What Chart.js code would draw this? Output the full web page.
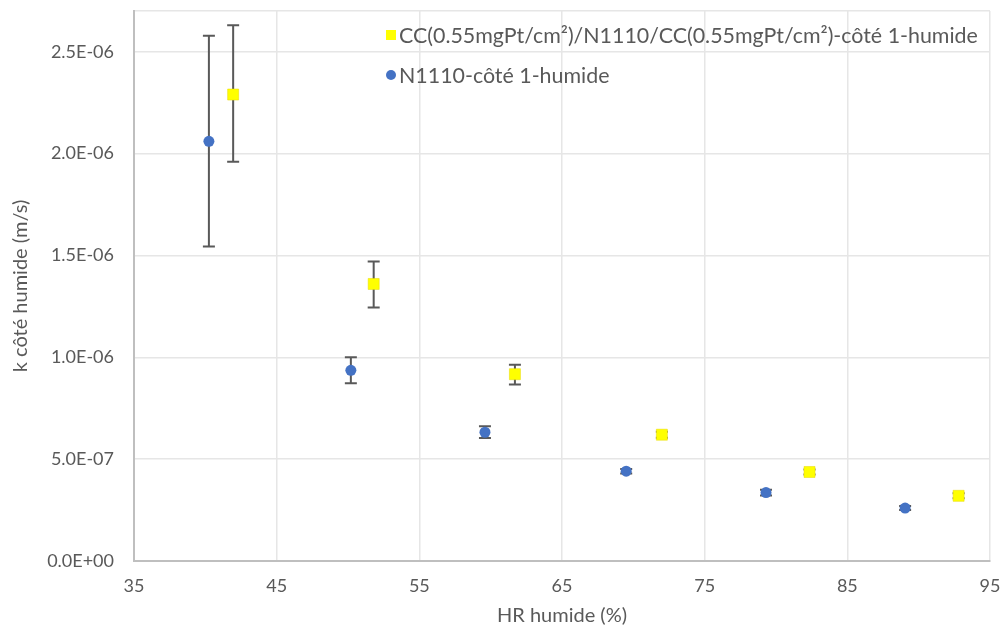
<!DOCTYPE html>
<html lang="fr">
<head>
<meta charset="UTF-8">
<title>k côté humide</title>
<style>
    body { margin: 0; background: #fff; font-family: Lato, sans-serif; }
    .wrap { position: relative; width: 1005px; height: 628px; }
    .legend { position: absolute; left: 386px; top: 15px; color: #595959; font-size: 21.4px; }
    .legend div { display: flex; align-items: center; height: 40px; }
    .legend span.mk { display: inline-block; width: 10px; height: 10px; margin-right: 3px; }
</style>
</head>
<body>
<div class="wrap">
    <canvas id="chart" width="1005" height="628"></canvas>
    <div class="legend">
        <div><span class="mk" style="background:#FFFF00"></span>CC(0.55mgPt/cm²)/N1110/CC(0.55mgPt/cm²)-côté 1-humide</div>
        <div><span class="mk" style="background:#4472C4;border-radius:50%"></span>N1110-côté 1-humide</div>
    </div>
</div>

<script src="https://cdn.jsdelivr.net/npm/chart.js"></script>
<script>
    // data
    const ccLabel = 'CC(0.55mgPt/cm²)/N1110/CC(0.55mgPt/cm²)-côté 1-humide';
    const ccHR = [41.95, 51.8, 61.7, 72.0, 82.35, 92.8];
    const ccK = [2.29e-6, 1.36e-6, 0.917e-6, 0.62e-6, 0.437e-6, 0.32e-6];
    const ccLow = [1.96e-6, 1.245e-6, 0.866e-6, 0.605e-6, 0.425e-6, 0.308e-6];
    const ccHigh = [2.63e-6, 1.47e-6, 0.963e-6, 0.635e-6, 0.449e-6, 0.332e-6];

    const nLabel = 'N1110-côté 1-humide';
    const nHR = [40.25, 50.2, 59.6, 69.5, 79.3, 89.05];
    const nK = [2.06e-6, 0.936e-6, 0.632e-6, 0.441e-6, 0.336e-6, 0.26e-6];
    const nLow = [1.544e-6, 0.873e-6, 0.604e-6, 0.43e-6, 0.322e-6, 0.25e-6];
    const nHigh = [2.578e-6, 1.0e-6, 0.661e-6, 0.452e-6, 0.35e-6, 0.27e-6];

    const yTicks = [0, 5e-7, 1e-6, 1.5e-6, 2e-6, 2.5e-6];
    const yMax = 2.7e-6;
    const xTicks = [35, 45, 55, 65, 75, 85, 95];

    function sci(v) {
        const s = v.toExponential(1).toUpperCase();
        const [m, e] = s.split('E');
        const sign = e[0] === '-' ? '-' : '+';
        const d = e.replace(/[+-]/, '').padStart(2, '0');
        return m + 'E' + sign + d;
    }

    const errorBars = {
        id: 'errorBars',
        beforeDatasetsDraw(chart) {
            const c = chart.ctx;
            const xs = chart.scales.x, ys = chart.scales.y;
            c.save();
            c.strokeStyle = '#595959';
            c.lineWidth = 2;
            chart.data.datasets.forEach(ds => {
                ds.data.forEach((p, i) => {
                    const x = xs.getPixelForValue(p.x);
                    const y1 = ys.getPixelForValue(ds.low[i]);
                    const y2 = ys.getPixelForValue(ds.high[i]);
                    c.beginPath();
                    c.moveTo(x, y1); c.lineTo(x, y2);
                    c.moveTo(x - 6, y1); c.lineTo(x + 6, y1);
                    c.moveTo(x - 6, y2); c.lineTo(x + 6, y2);
                    c.stroke();
                });
            });
            c.restore();
        }
    };

    const font = { family: 'Lato, sans-serif', size: 18 };
    const titleFont = { family: 'Lato, sans-serif', size: 20 };
    const ctx = document.getElementById('chart').getContext('2d');
    new Chart(ctx, {
        type: 'scatter',
        data: {
            datasets: [{
                label: ccLabel,
                data: ccHR.map((x, i) => ({ x: x, y: ccK[i] })),
                low: ccLow, high: ccHigh,
                pointStyle: 'rect',
                pointRadius: 7.8,
                backgroundColor: '#FFFF00',
                borderColor: '#E6D800',
                borderWidth: 0.5
            }, {
                label: nLabel,
                data: nHR.map((x, i) => ({ x: x, y: nK[i] })),
                low: nLow, high: nHigh,
                pointStyle: 'circle',
                pointRadius: 5.5,
                backgroundColor: '#4472C4',
                borderColor: '#4472C4',
                borderWidth: 0
            }]
        },
        options: {
            responsive: false,
            animation: false,
            layout: { padding: { top: 11, right: 15, left: 0, bottom: 0 } },
            plugins: { legend: { display: false }, tooltip: { enabled: false } },
            scales: {
                x: {
                    type: 'linear', min: 35, max: 95,
                    afterBuildTicks: s => { s.ticks = xTicks.map(v => ({ value: v })); },
                    afterFit: s => { s.height = 67; s.paddingLeft = 0; s.paddingRight = 0; },
                    grid: { color: '#E6E6E6', lineWidth: 1.5, drawTicks: false },
                    border: { color: '#BFBFBF', width: 2 },
                    ticks: { color: '#595959', font: font, padding: 14 },
                    title: { display: true, text: 'HR humide (%)', color: '#595959',
                        font: titleFont, padding: { top: 0, bottom: 0 } }
                },
                y: {
                    type: 'linear', min: 0, max: yMax,
                    afterBuildTicks: s => { s.ticks = yTicks.concat([yMax]).map(v => ({ value: v })); },
                    afterFit: s => { s.width = 134; s.paddingTop = 0; s.paddingBottom = 0; },
                    grid: { color: '#E6E6E6', lineWidth: 1.5, drawTicks: false },
                    border: { color: '#BFBFBF', width: 2 },
                    ticks: { color: '#595959', font: font, padding: 20,
                        callback: v => (yTicks.includes(v) ? sci(v) : '') },
                    title: { display: true, text: 'k côté humide (m/s)', color: '#595959',
                        font: titleFont, padding: { top: 9, bottom: 0 } }
                }
            }
        },
        plugins: [errorBars]
    });
</script>
</body>
</html>
